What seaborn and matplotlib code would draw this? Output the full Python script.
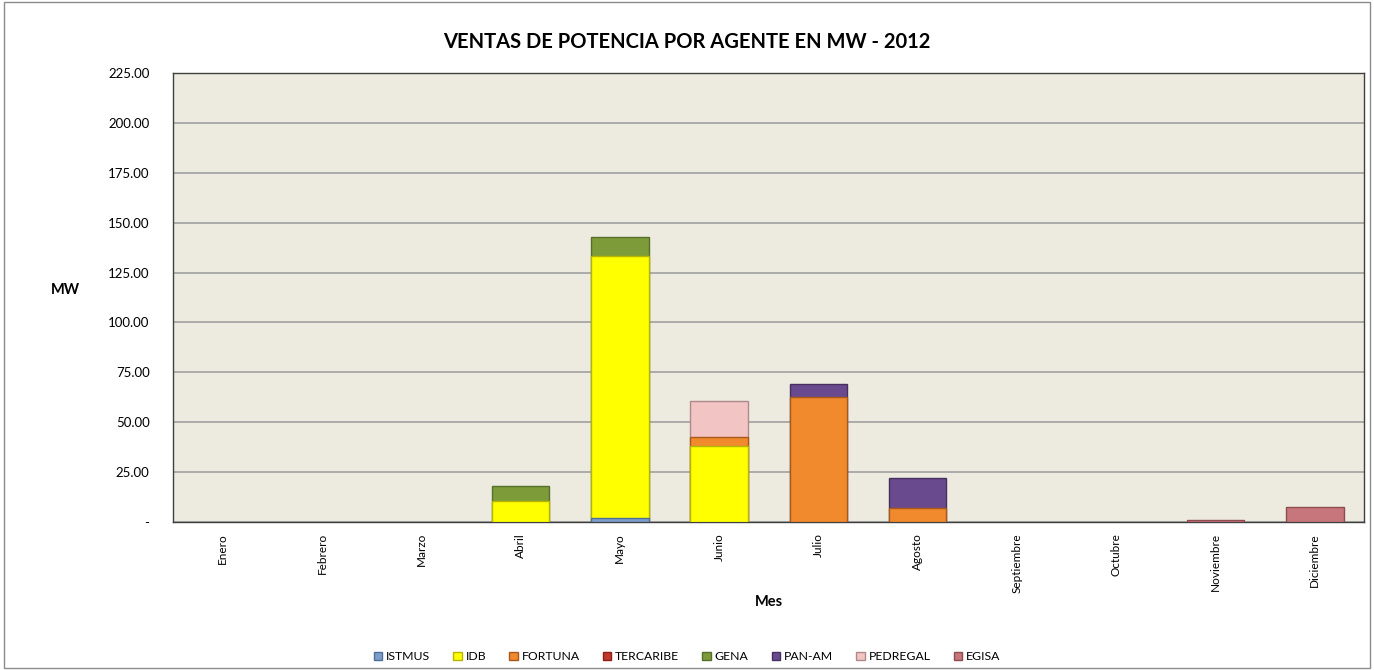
import seaborn as sns
import matplotlib.pyplot as plt
import matplotlib.patches as mpatches
import numpy as np
import pandas as pd

# Data (MW)
meses = ['Enero', 'Febrero', 'Marzo', 'Abril', 'Mayo', 'Junio', 'Julio',
         'Agosto', 'Septiembre', 'Octubre', 'Noviembre', 'Diciembre']
agentes = ['ISTMUS', 'IDB', 'FORTUNA', 'TERCARIBE', 'GENA', 'PAN-AM', 'PEDREGAL', 'EGISA']

istmus    = [0, 0, 0, 0, 2.0, 0, 0, 0, 0, 0, 0, 0]
idb       = [0, 0, 0, 10.7, 131.5, 38.0, 0, 0, 0, 0, 0, 0]
fortuna   = [0, 0, 0, 0, 0, 4.5, 62.7, 6.8, 0, 0, 0, 0]
tercaribe = [0, 0, 0, 0, 0, 0, 0, 0, 0, 0, 0, 0]
gena      = [0, 0, 0, 7.3, 9.5, 0, 0, 0, 0, 0, 0, 0]
panam     = [0, 0, 0, 0, 0, 0, 6.5, 15.4, 0, 0, 0, 0]
pedregal  = [0, 0, 0, 0, 0, 18.0, 0, 0, 0, 0, 0, 0]
egisa     = [0, 0, 0, 0, 0, 0, 0, 0, 0, 0, 1.0, 7.5]

series = [istmus, idb, fortuna, tercaribe, gena, panam, pedregal, egisa]
colores = ['#7F9DC9', '#FFFF00', '#F08A2C', '#C0392B', '#7E9B3A', '#6A4A8E', '#F3C4C4', '#C7777B']
bordes = ['#4F6E99', '#B5B500', '#A85A1A', '#8A2018', '#55702A', '#45305F', '#B08A8A', '#8E4C50']

# cumulative totals for stacking; empty segments are skipped
vals = np.array(series, dtype=float)
cum = np.cumsum(vals, axis=0)
cum[vals == 0] = np.nan

plt.rcParams['font.family'] = ['Lato', 'DejaVu Sans']
fig = plt.figure(figsize=(13.74, 6.7), dpi=100)
ax = fig.add_axes([0.126, 0.221, 0.867, 0.670])
ax.set_facecolor('#EDEAE0')

# draw from the top of the stack down so lower segments cover upper ones
for i in range(len(agentes) - 1, -1, -1):
    df = pd.DataFrame({'Mes': meses, 'MW': cum[i]})
    sns.barplot(data=df, x='Mes', y='MW', color=colores[i], width=0.58,
                edgecolor=bordes[i], linewidth=1.0, saturation=1, ax=ax, zorder=3)

ax.set_ylim(0, 225)
ax.set_xlim(-0.5, 11.5)
yt = np.arange(0, 226, 25)
ax.set_yticks(yt)
ax.set_yticklabels(['-'] + [f'{v:.2f}' for v in yt[1:]], fontsize=9.5)
ax.yaxis.grid(True, color='#A0A0A0', linewidth=1.2, zorder=0)
ax.set_axisbelow(True)
plt.setp(ax.get_xticklabels(), rotation=90, fontsize=8.5)
for s in ax.spines.values():
    s.set_color('#404040')
    s.set_linewidth(1)

ax.set_xlabel('Mes', fontsize=10.5, fontweight='bold', labelpad=2)
ax.set_ylabel('MW', fontsize=10.5, fontweight='bold', rotation=0, labelpad=0)
ax.yaxis.set_label_coords(-0.09, 0.5)
ax.yaxis.set_tick_params(length=0, pad=17)
ax.xaxis.set_tick_params(length=0, pad=8)
fig.suptitle('VENTAS DE POTENCIA POR AGENTE EN MW - 2012', fontsize=14.5,
             fontweight='bold', y=0.952)

handles = [mpatches.Patch(facecolor=c, edgecolor=b, label=a)
           for a, c, b in zip(agentes, colores, bordes)]
fig.legend(handles=handles, loc='center', bbox_to_anchor=(0.5, 0.02), ncol=8,
           frameon=False, fontsize=8.8, handlelength=0.7, handleheight=0.7,
           handletextpad=0.3, columnspacing=1.9)

# outer chart border
fig.patches.append(mpatches.Rectangle((0.003, 0.003), 0.994, 0.994, transform=fig.transFigure,
                                      fill=False, edgecolor='#8C8C8C', linewidth=1))

fig.savefig('out.png', dpi=100)
